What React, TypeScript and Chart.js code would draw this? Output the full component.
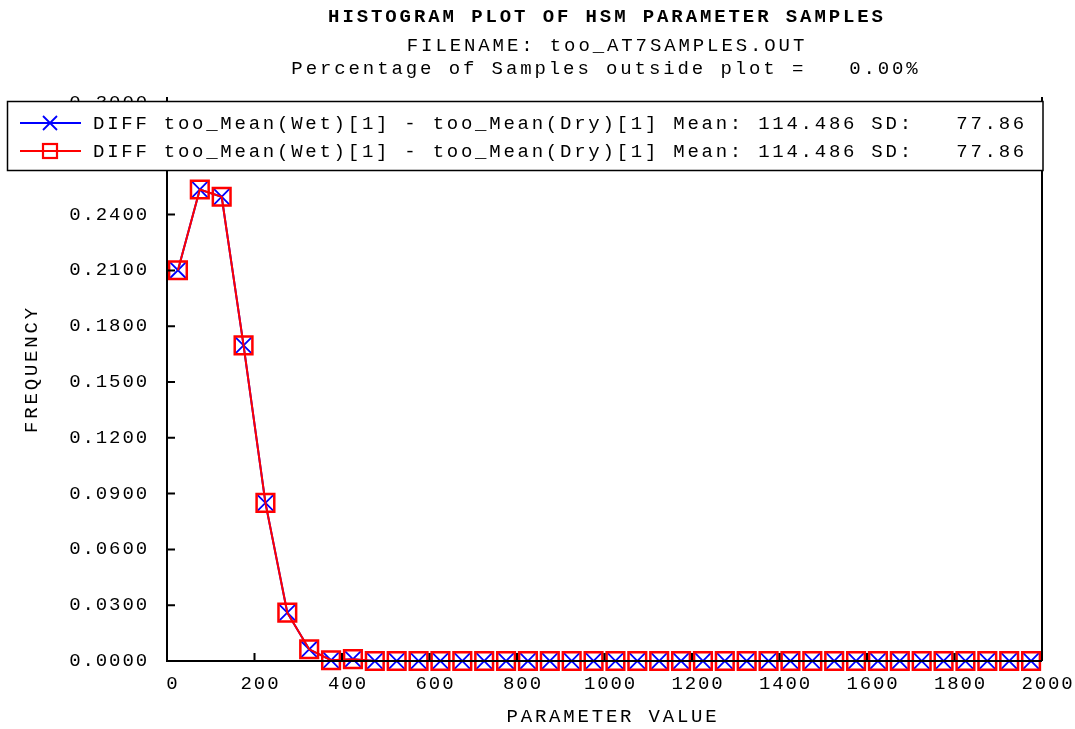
import React, { useEffect, useRef } from 'react';
import { Chart, registerables } from 'chart.js';

Chart.register(...registerables);

const titleLines = [
  'HISTOGRAM PLOT OF HSM PARAMETER SAMPLES',
  'FILENAME: too_AT7SAMPLES.OUT',
  'Percentage of Samples outside plot =   0.00%',
];

const seriesLabels = [
  'DIFF too_Mean(Wet)[1] - too_Mean(Dry)[1] Mean: 114.486 SD:   77.86',
  'DIFF too_Mean(Wet)[1] - too_Mean(Dry)[1] Mean: 114.486 SD:   77.86',
];

const binCenters = [
  25, 75, 125, 175, 225, 275, 325, 375, 425, 475,
  525, 575, 625, 675, 725, 775, 825, 875, 925, 975,
  1025, 1075, 1125, 1175, 1225, 1275, 1325, 1375, 1425, 1475,
  1525, 1575, 1625, 1675, 1725, 1775, 1825, 1875, 1925, 1975,
];

const frequencies = [
  0.2101, 0.2535, 0.2496, 0.1697, 0.0850, 0.0260, 0.0063, 0.0004, 0.0010, 0,
  0, 0, 0, 0, 0, 0, 0, 0, 0, 0,
  0, 0, 0, 0, 0, 0, 0, 0, 0, 0,
  0, 0, 0, 0, 0, 0, 0, 0, 0, 0,
];

const xAxisTitle = 'PARAMETER VALUE';
const yAxisTitle = 'FREQUENCY';

const FONT = '"Liberation Mono", "DejaVu Sans Mono", monospace';

const decorPlugin = {
  id: 'decor',
  beforeDraw(chart: any) {
    (chart.ctx as any).letterSpacing = '1.9px';
  },
  afterDatasetsDraw(chart: any) {
    const ctx = chart.ctx;
    const xs = chart.scales.x;
    const ys = chart.scales.y;
    const { left, right, top, bottom } = chart.chartArea;
    ctx.save();
    ctx.strokeStyle = '#000';
    ctx.lineWidth = 2;
    ctx.beginPath();
    ctx.moveTo(left, top - 6);
    ctx.lineTo(left, bottom);
    ctx.lineTo(right, bottom);
    ctx.moveTo(right, top - 6);
    ctx.lineTo(right, bottom);
    xs.ticks.forEach((t: any) => {
      const px = xs.getPixelForValue(t.value);
      ctx.moveTo(px, bottom);
      ctx.lineTo(px, bottom - 8);
    });
    ys.ticks.forEach((t: any) => {
      const py = ys.getPixelForValue(t.value);
      ctx.moveTo(left, py);
      ctx.lineTo(left + 8, py);
    });
    ctx.stroke();
    ctx.restore();
  },
  afterDraw(chart: any) {
    const ctx = chart.ctx;
    ctx.save();
    ctx.fillStyle = '#000';
    ctx.textAlign = 'center';
    ctx.textBaseline = 'middle';
    ctx.letterSpacing = '2.9px';
    ctx.font = `bold 19px ${FONT}`;
    ctx.fillText(titleLines[0], 607, 17);
    ctx.font = `19px ${FONT}`;
    ctx.fillText(titleLines[1], 607, 46);
    ctx.fillText(titleLines[2], 606, 69);
    ctx.letterSpacing = '2.8px';
    ctx.fillText(xAxisTitle, 613, 717);
    ctx.save();
    ctx.translate(32, 369);
    ctx.rotate(-Math.PI / 2);
    ctx.fillText(yAxisTitle, 0, 0);
    ctx.restore();

    const boxL = 7.5, boxT = 101.5, boxW = 1035.5, boxH = 69;
    ctx.fillStyle = '#fff';
    ctx.fillRect(boxL, boxT, boxW, boxH);
    ctx.strokeStyle = '#000';
    ctx.lineWidth = 1.5;
    ctx.strokeRect(boxL, boxT, boxW, boxH);
    const rows = [123, 151];
    chart.data.datasets.forEach((ds: any, i: number) => {
      const y = rows[i];
      ctx.strokeStyle = ds.borderColor;
      ctx.lineWidth = 2;
      ctx.beginPath();
      ctx.moveTo(20, y);
      ctx.lineTo(81, y);
      ctx.stroke();
      const cx = 50;
      if (ds.pointStyle === 'crossRot') {
        const h = 7;
        ctx.lineWidth = 1.8;
        ctx.beginPath();
        ctx.moveTo(cx - h, y - h);
        ctx.lineTo(cx + h, y + h);
        ctx.moveTo(cx - h, y + h);
        ctx.lineTo(cx + h, y - h);
        ctx.stroke();
      } else {
        const h = 7;
        ctx.lineWidth = 2.2;
        ctx.strokeRect(cx - h, y - h, 2 * h, 2 * h);
      }
      ctx.fillStyle = '#000';
      ctx.textAlign = 'left';
      ctx.letterSpacing = '2.75px';
      ctx.font = `19px ${FONT}`;
      ctx.fillText(ds.label, 93, y + 1);
    });
    ctx.restore();
  },
};

export default function App() {
  const canvasRef = useRef<HTMLCanvasElement | null>(null);

  useEffect(() => {
    const canvas = canvasRef.current;
    if (!canvas) return;
    const pts = binCenters.map((x, i) => ({ x, y: frequencies[i] }));
    const chart = new Chart(canvas, {
      type: 'line',
      data: {
        datasets: [
          {
            label: seriesLabels[0],
            data: pts,
            borderColor: '#0000ff',
            backgroundColor: 'transparent',
            pointStyle: 'crossRot',
            pointRadius: 11,
            pointBorderWidth: 1.8,
            pointBorderColor: '#0000ff',
            pointBackgroundColor: 'transparent',
            borderWidth: 2,
            tension: 0,
            clip: false,
            order: 2,
          },
          {
            label: seriesLabels[1],
            data: pts,
            borderColor: '#ff0000',
            backgroundColor: 'transparent',
            pointStyle: 'rect',
            pointRadius: 12.5,
            pointBorderWidth: 2.5,
            pointBorderColor: '#ff0000',
            pointBackgroundColor: 'transparent',
            borderWidth: 2,
            tension: 0,
            clip: false,
            order: 1,
          },
        ],
      },
      options: {
        animation: false,
        responsive: false,
        devicePixelRatio: 1,
        layout: { padding: { top: 103, right: 33, left: 0, bottom: 0 } },
        plugins: {
          legend: { display: false },
          title: { display: false },
          tooltip: { enabled: false },
        },
        scales: {
          x: {
            type: 'linear',
            min: 0,
            max: 2000,
            grid: { display: false },
            border: { display: false },
            ticks: {
              stepSize: 200,
              autoSkip: false,
              maxRotation: 0,
              padding: 4,
              labelOffset: 6,
              color: '#000',
              font: { family: FONT, size: 19 },
              callback: (v: any) => String(v),
            },
            afterFit: (s: any) => {
              s.height = 68;
            },
          },
          y: {
            type: 'linear',
            min: 0,
            max: 0.3,
            grid: { display: false },
            border: { display: false },
            ticks: {
              stepSize: 0.03,
              autoSkip: false,
              padding: 10,
              color: '#000',
              font: { family: FONT, size: 19 },
              callback: (v: any) => Number(v).toFixed(4),
            },
            afterFit: (s: any) => {
              s.width = 167;
            },
          },
        },
      },
      plugins: [decorPlugin],
    });
    return () => chart.destroy();
  }, []);

  return (
    <div style={{ position: 'absolute', left: 0, top: 0, width: 1075, height: 729, background: '#fff' }}>
      <canvas ref={canvasRef} width={1075} height={729} style={{ display: 'block' }} />
    </div>
  );
}
